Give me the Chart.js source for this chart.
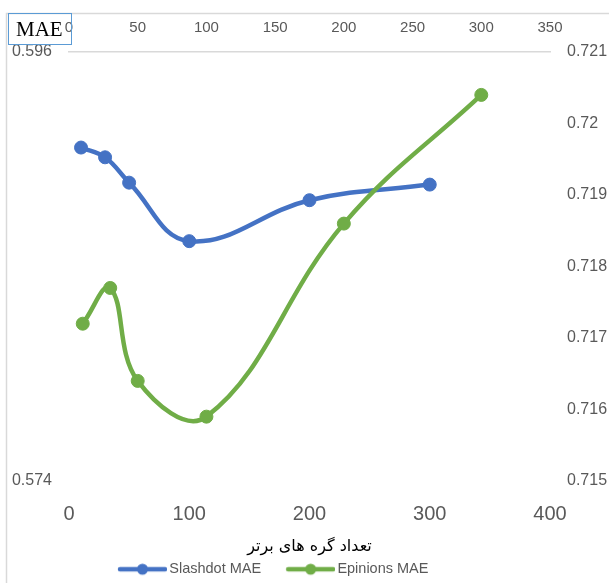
<!DOCTYPE html>
<html><head><meta charset="utf-8">
<script src="https://cdn.jsdelivr.net/npm/chart.js@4.4.1/dist/chart.umd.min.js"></script>
<style>
html,body{margin:0;padding:0;background:#fff;}
#wrap{position:relative;width:609px;height:583px;overflow:hidden;}
canvas{display:block;}
#mae{position:absolute;left:8px;top:13px;width:64px;height:32px;border:1px solid #5b9bd5;box-sizing:border-box;font-family:"Liberation Serif","DejaVu Serif",serif;font-size:21px;line-height:30px;color:#000;padding-left:7px;}
</style></head>
<body><div id="wrap"><canvas id="c" width="609" height="583"></canvas><div id="mae">MAE</div></div>
<script>
// ---- data ----
const xValues = [10, 30, 50, 100, 200, 300];
const slashdotMAE = [0.5911, 0.5906, 0.5893, 0.5863, 0.5884, 0.5892];
const epinionsMAE = [0.7172, 0.7177, 0.7164, 0.7159, 0.7186, 0.7204];
const seriesNames = ['Slashdot MAE', 'Epinions MAE'];
const bottomTicks = [0, 100, 200, 300, 400];
const topTicks = [0, 50, 100, 150, 200, 250, 300, 350];
const leftTicks = [0.574, 0.596];
const rightTicks = [0.715, 0.716, 0.717, 0.718, 0.719, 0.72, 0.721];
const axisTitle = 'تعداد گره های برتر';

const BLUE = '#4472C4', GREEN = '#70AD47', GRAY = '#595959';
const FONT = '"Liberation Sans", Arial, sans-serif';

function legendImg(color) {
  const c = document.createElement('canvas');
  c.width = 74; c.height = 14;
  const g = c.getContext('2d');
  g.strokeStyle = color; g.lineWidth = 4.5; g.lineCap = 'round';
  g.beginPath(); g.moveTo(27, 7); g.lineTo(72, 7); g.stroke();
  g.fillStyle = color;
  g.beginPath(); g.arc(49.5, 7, 5.5, 0, Math.PI * 2); g.fill();
  return c;
}
const legendImgs = [legendImg(BLUE), legendImg(GREEN)];

const fmt = v => String(parseFloat(Number(v).toFixed(3)));
const setTicks = arr => s => { s.ticks = arr.map(v => ({ value: v })); };

const frame = {
  id: 'frame',
  beforeDraw(chart) {
    const ctx = chart.ctx;
    ctx.save();
    ctx.strokeStyle = '#d9d9d9';
    ctx.lineWidth = 1.5;
    ctx.beginPath();
    ctx.moveTo(6.5, 583); ctx.lineTo(6.5, 13.5); ctx.lineTo(609, 13.5);
    ctx.stroke();
    ctx.restore();
  }
};
const legendShift = {
  id: 'legendShift',
  afterLayout(chart) {
    const lg = chart.legend;
    if (!lg || !lg.lineWidths) return;
    const pad = lg.options.labels.padding;
    const x0 = (lg.left + pad + lg.right - lg.lineWidths[0]) / 2;
    const d = 98 - x0;
    lg.left += d; lg.right += d;
  }
};

new Chart(document.getElementById('c'), {
  type: 'line',
  data: {
    datasets: [
      {
        label: seriesNames[0],
        data: xValues.map((x, i) => ({ x, y: slashdotMAE[i] })),
        xAxisID: 'x', yAxisID: 'y',
        borderColor: BLUE, backgroundColor: BLUE,
        pointBackgroundColor: BLUE, pointBorderColor: BLUE,
        borderWidth: 4.5, pointRadius: 6.5, pointBorderWidth: 1,
        tension: 0.4, order: 1, fill: false
      },
      {
        label: seriesNames[1],
        data: xValues.map((x, i) => ({ x, y: epinionsMAE[i] })),
        xAxisID: 'x2', yAxisID: 'y2',
        borderColor: GREEN, backgroundColor: GREEN,
        pointBackgroundColor: GREEN, pointBorderColor: GREEN,
        borderWidth: 4.5, pointRadius: 6.5, pointBorderWidth: 1,
        tension: 0.4, order: 0, fill: false
      }
    ]
  },
  options: {
    responsive: false,
    animation: false,
    devicePixelRatio: 1,
    layout: { padding: 0 },
    plugins: {
      tooltip: { enabled: false },
      legend: {
        position: 'bottom',
        maxHeight: 26,
        labels: {
          usePointStyle: true,
          pointStyleWidth: 64,
          padding: 5,
          color: GRAY,
          font: { family: FONT, size: 14.5 },
          generateLabels(chart) {
            return chart.data.datasets.map((ds, i) => ({
              text: ds.label,
              fillStyle: ds.borderColor,
              strokeStyle: ds.borderColor,
              lineWidth: 0,
              pointStyle: legendImgs[i],
              fontColor: GRAY,
              hidden: false,
              datasetIndex: i
            }));
          }
        }
      }
    },
    scales: {
      x: {
        type: 'linear', position: 'bottom', min: 0, max: 400,
        afterBuildTicks: setTicks(bottomTicks),
        afterFit: s => { s.height = 76; },
        grid: { display: false, drawTicks: false },
        border: { display: false },
        ticks: { autoSkip: false, maxRotation: 0, padding: 21, color: GRAY, font: { family: FONT, size: 20 } },
        title: { display: true, text: axisTitle, color: '#000', font: { family: '"DejaVu Sans", sans-serif', size: 16 }, padding: { top: 0, bottom: 1 } }
      },
      x2: {
        type: 'linear', position: 'top', min: 0, max: 350,
        afterBuildTicks: setTicks(topTicks),
        afterFit: s => { s.height = 52; },
        grid: { display: false, drawTicks: false },
        border: { display: true, color: '#d9d9d9', width: 1.5 },
        ticks: { autoSkip: false, maxRotation: 0, padding: 15, color: GRAY, font: { family: FONT, size: 15 } }
      },
      y: {
        type: 'linear', position: 'left', min: 0.574, max: 0.596,
        afterBuildTicks: setTicks(leftTicks),
        afterFit: s => { s.width = 69; },
        grid: { display: false, drawTicks: false },
        border: { display: false },
        ticks: { padding: 17, color: GRAY, font: { family: FONT, size: 16 }, callback: fmt }
      },
      y2: {
        type: 'linear', position: 'right', min: 0.715, max: 0.721,
        afterBuildTicks: setTicks(rightTicks),
        afterFit: s => { s.width = 59; },
        grid: { display: false, drawTicks: false },
        border: { display: false },
        ticks: { padding: 17, color: GRAY, font: { family: FONT, size: 16 }, callback: fmt }
      }
    }
  },
  plugins: [frame, legendShift]
});
</script>
</body></html>
